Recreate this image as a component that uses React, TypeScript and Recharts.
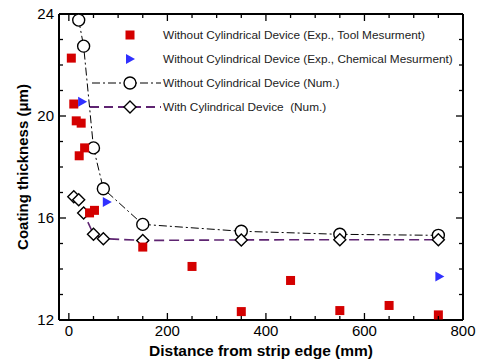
import {
  ComposedChart,
  Line,
  Scatter,
  XAxis,
  YAxis,
  Label,
} from 'recharts';

// distance from strip edge (mm) / coating thickness (um)
const toolX = [5, 10, 15, 25, 32, 21, 52, 42, 150, 250, 350, 450, 550, 650, 750];
const toolY = [22.27, 20.47, 19.81, 19.72, 18.75, 18.44, 16.3, 16.2, 14.86, 14.1, 12.33, 13.55, 12.37, 12.57, 12.2];

const chemX = [27, 77, 752];
const chemY = [20.56, 16.63, 13.71];

const numX = [20, 30, 50, 70, 150, 350, 550, 750];
const withoutNumY = [23.76, 22.74, 18.75, 17.15, 15.75, 15.48, 15.36, 15.32];

const withX = [10, 20, 30, 50, 70, 150, 350, 550, 750];
const withNumY = [16.83, 16.72, 16.2, 15.36, 15.19, 15.12, 15.14, 15.15, 15.15];

const xTicks = Array.from({ length: 17 }, (_, i) => i * 50);
const yTicks = Array.from({ length: 13 }, (_, i) => 12 + i);

const toolData = toolX.map((x, i) => ({ x, y: toolY[i] }));
const chemData = chemX.map((x, i) => ({ x, y: chemY[i] }));
const withoutData = numX.map((x, i) => ({ x, y: withoutNumY[i] }));
const withData = withX.map((x, i) => ({ x, y: withNumY[i] }));

const RED = '#d40000';
const BLUE = '#3030ff';
const PURPLE = '#5e2471';
const FONT = 'Arial, "Liberation Sans", Helvetica, sans-serif';

const Square = (props: any) => {
  const { cx, cy } = props;
  return <rect x={cx - 4.5} y={cy - 4.5} width={9} height={9} fill={RED} />;
};

const Triangle = (props: any) => {
  const { cx, cy } = props;
  return <path d={`M${cx - 4},${cy - 5} L${cx + 5},${cy} L${cx - 4},${cy + 5} Z`} fill={BLUE} />;
};

const CircleDot = (props: any) => {
  const { cx, cy } = props;
  return <circle cx={cx} cy={cy} r={6} fill="#fff" stroke="#000" strokeWidth={1.4} />;
};

const DiamondDot = (props: any) => {
  const { cx, cy } = props;
  return (
    <path
      d={`M${cx},${cy - 6} L${cx + 6},${cy} L${cx},${cy + 6} L${cx - 6},${cy} Z`}
      fill="#fff"
      stroke="#000"
      strokeWidth={1.4}
    />
  );
};

const BottomTick = ({ x, y, payload }: any) => {
  const major = payload.value % 200 === 0;
  return (
    <g>
      <line x1={x} x2={x} y1={y} y2={y - (major ? 7 : 4)} stroke="#000" strokeWidth={1.3} />
      {major && (
        <text x={x} y={y + 16} textAnchor="middle" fontSize={15} fontFamily={FONT} fill="#000">
          {payload.value}
        </text>
      )}
    </g>
  );
};

const TopTick = ({ x, y, payload }: any) => {
  const major = payload.value % 200 === 0;
  return <line x1={x} x2={x} y1={y} y2={y + (major ? 7 : 4)} stroke="#000" strokeWidth={1.3} />;
};

const LeftTick = ({ x, y, payload }: any) => {
  const major = payload.value % 4 === 0;
  return (
    <g>
      <line x1={x} x2={x + (major ? 7 : 4)} y1={y} y2={y} stroke="#000" strokeWidth={1.3} />
      {major && (
        <text x={x - 5} y={y + 5} textAnchor="end" fontSize={15} fontFamily={FONT} fill="#000">
          {payload.value}
        </text>
      )}
    </g>
  );
};

const RightTick = ({ x, y, payload }: any) => {
  const major = payload.value % 4 === 0;
  return <line x1={x} x2={x - (major ? 7 : 4)} y1={y} y2={y} stroke="#000" strokeWidth={1.3} />;
};

const legendRows = [
  { label: 'Without Cylindrical Device (Exp., Tool Mesurment)', kind: 'square' },
  { label: 'Without Cylindrical Device (Exp., Chemical Mesurment)', kind: 'triangle' },
  { label: 'Without Cylindrical Device (Num.)', kind: 'circle' },
  { label: 'With Cylindrical Device  (Num.)', kind: 'diamond' },
];

const LegendBox = () => (
  <svg width={390} height={100} style={{ position: 'absolute', left: 85, top: 23 }}>
    {legendRows.map((r, i) => {
      const cy = 12 + i * 24;
      const cx = 45;
      return (
        <g key={r.label}>
          {r.kind === 'circle' && (
            <line x1={7} x2={76} y1={cy} y2={cy} stroke="#000" strokeWidth={1} strokeDasharray="8 3 2 3" />
          )}
          {r.kind === 'diamond' && (
            <line x1={5} x2={76} y1={cy} y2={cy} stroke={PURPLE} strokeWidth={2} strokeDasharray="9 5" />
          )}
          {r.kind === 'square' && <Square cx={cx} cy={cy} />}
          {r.kind === 'triangle' && <Triangle cx={cx} cy={cy} />}
          {r.kind === 'circle' && <CircleDot cx={cx} cy={cy} />}
          {r.kind === 'diamond' && <DiamondDot cx={cx} cy={cy} />}
          <text
            x={78}
            y={cy + 4}
            fontSize={11.8}
            fontFamily={FONT}
            fill="#222"
            style={{ whiteSpace: 'pre' }}
          >
            {r.label}
          </text>
        </g>
      );
    })}
  </svg>
);

export default function App() {
  return (
    <div style={{ position: 'absolute', left: 0, top: 0, width: 479, height: 360, background: '#fff' }}>
      <ComposedChart width={479} height={360} margin={{ top: 13, right: 15, bottom: 0, left: 0 }}>
        <XAxis
          xAxisId="bottom"
          dataKey="x"
          type="number"
          domain={[-20, 800]}
          ticks={xTicks}
          interval={0}
          height={40}
          tickSize={0}
          tickMargin={0}
          tickLine={false}
          axisLine={{ stroke: '#000', strokeWidth: 2 }}
          tick={<BottomTick />}
          allowDataOverflow
        >
          <Label
            content={({ viewBox }: any) => (
              <text
                x={viewBox.x + viewBox.width / 2}
                y={viewBox.y + 36}
                textAnchor="middle"
                fontSize={15.5}
                fontWeight="bold"
                fontFamily={FONT}
                fill="#000"
              >
                Distance from strip edge (mm)
              </text>
            )}
          />
        </XAxis>
        <XAxis
          xAxisId="top"
          orientation="top"
          dataKey="x"
          type="number"
          domain={[-20, 800]}
          ticks={xTicks}
          interval={0}
          height={1}
          tickSize={0}
          tickMargin={0}
          tickLine={false}
          axisLine={{ stroke: '#000', strokeWidth: 2 }}
          tick={<TopTick />}
          allowDataOverflow
        />
        <YAxis
          yAxisId="left"
          type="number"
          domain={[12, 24]}
          ticks={yTicks}
          interval={0}
          width={59}
          tickSize={0}
          tickMargin={0}
          tickLine={false}
          axisLine={{ stroke: '#000', strokeWidth: 2 }}
          tick={<LeftTick />}
          allowDataOverflow
        >
          <Label
            content={({ viewBox }: any) => {
              const cx = 28;
              const cy = viewBox.y + viewBox.height / 2;
              return (
                <text
                  x={cx}
                  y={cy}
                  transform={`rotate(-90 ${cx} ${cy})`}
                  textAnchor="middle"
                  fontSize={15}
                  fontWeight="bold"
                  fontFamily={FONT}
                  fill="#000"
                >
                  Coating thickness (μm)
                </text>
              );
            }}
          />
        </YAxis>
        <YAxis
          yAxisId="right"
          orientation="right"
          type="number"
          domain={[12, 24]}
          ticks={yTicks}
          interval={0}
          width={1}
          tickSize={0}
          tickMargin={0}
          tickLine={false}
          axisLine={{ stroke: '#000', strokeWidth: 2 }}
          tick={<RightTick />}
          allowDataOverflow
        />
        <Line
          xAxisId="bottom"
          yAxisId="left"
          data={withoutData}
          dataKey="y"
          type="linear"
          stroke="#000"
          strokeWidth={1}
          strokeDasharray="8 3 2 3"
          dot={<CircleDot />}
          activeDot={false}
          isAnimationActive={false}
        />
        <Line
          xAxisId="bottom"
          yAxisId="left"
          data={withData}
          dataKey="y"
          type="linear"
          stroke={PURPLE}
          strokeWidth={1.6}
          strokeDasharray="10 5"
          dot={<DiamondDot />}
          activeDot={false}
          isAnimationActive={false}
        />
        <Scatter
          xAxisId="bottom"
          yAxisId="left"
          data={toolData}
          dataKey="y"
          shape={<Square />}
          isAnimationActive={false}
        />
        <Scatter
          xAxisId="bottom"
          yAxisId="left"
          data={chemData}
          dataKey="y"
          shape={<Triangle />}
          isAnimationActive={false}
        />
      </ComposedChart>
      <LegendBox />
    </div>
  );
}
